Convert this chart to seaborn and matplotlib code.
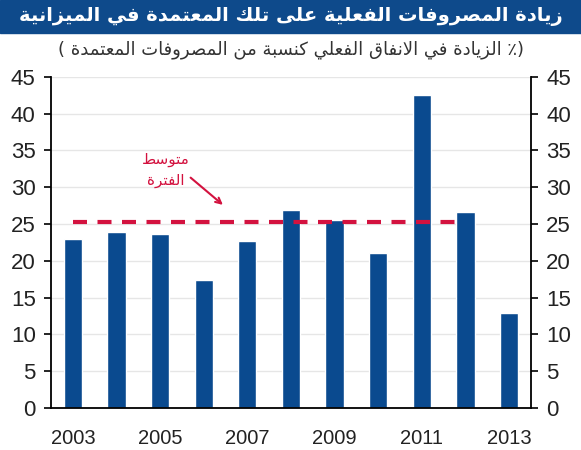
import numpy as np
import pandas as pd
import matplotlib
matplotlib.use('Agg')
import matplotlib.pyplot as plt
from matplotlib.patches import Rectangle
import seaborn as sns

# данные
years = [str(y) for y in range(2003, 2014)]
values = [23.0, 23.9, 23.7, 17.4, 22.7, 26.9, 25.5, 21.1, 42.5, 26.6, 12.9]
avg_years = 10  # среднее считается за 2003-2012

title = 'زيادة المصروفات الفعلية على تلك المعتمدة في الميزانية'
subtitle = '(٪ الزيادة في الانفاق الفعلي كنسبة من المصروفات المعتمدة )'
note_lines = ['متوسط', 'الفترة']

# простая арабская лигатура (matplotlib сам не соединяет буквы)
FORMS = {
    'ا': (0xFE8D, 2), 'ب': (0xFE8F, 4), 'ة': (0xFE93, 2), 'ت': (0xFE95, 4),
    'د': (0xFEA9, 2), 'ر': (0xFEAD, 2), 'ز': (0xFEAF, 2), 'س': (0xFEB1, 4),
    'ص': (0xFEB9, 4), 'ط': (0xFEC1, 4), 'ع': (0xFEC9, 4), 'ف': (0xFED1, 4),
    'ق': (0xFED5, 4), 'ك': (0xFED9, 4), 'ل': (0xFEDD, 4), 'م': (0xFEE1, 4),
    'ن': (0xFEE5, 4), 'و': (0xFEED, 2), 'ى': (0xFEEF, 2), 'ي': (0xFEF1, 4),
}


def shape(text):
    out = []
    i = 0
    while i < len(text):
        c = text[i]
        if c not in FORMS:
            out.append(c)
            i += 1
            continue
        prev = text[i - 1] if i > 0 else ''
        joins_prev = prev in FORMS and FORMS[prev][1] == 4
        if c == 'ل' and i + 1 < len(text) and text[i + 1] == 'ا':
            out.append(chr(0xFEFC if joins_prev else 0xFEFB))
            i += 2
            continue
        nxt = text[i + 1] if i + 1 < len(text) else ''
        joins_next = FORMS[c][1] == 4 and nxt in FORMS
        base = FORMS[c][0]
        if joins_prev and joins_next:
            code = base + 3
        elif joins_prev:
            code = base + 1
        elif joins_next:
            code = base + 2
        else:
            code = base
        out.append(chr(code))
        i += 1
    vis = ''.join(out)[::-1]
    return vis.translate(str.maketrans('()', ')('))


sns.set_style('white')
plt.rcParams['font.family'] = ['Liberation Sans', 'DejaVu Sans']

bar_color = '#0A4A8F'
red = '#D3123F'

fig = plt.figure(figsize=(5.81, 4.5), dpi=100)
ax = fig.add_axes([0.0878, 0.0933, 0.826, 0.736])

df = pd.DataFrame({'year': years, 'value': values})
sns.barplot(data=df, x='year', y='value', color=bar_color, width=0.42,
            saturation=1, ax=ax, zorder=2)

avg = np.mean(values[:avg_years])
ax.hlines(avg, 0, avg_years - 1, colors=red, linestyles=(0, (3.36, 2.52)),
          linewidth=3, zorder=3)

ax.set_ylim(0, 45)
ax.set_xlim(-0.5, len(years) - 0.5)
ax.set_yticks(range(0, 46, 5))
ax.yaxis.grid(True, color='#E6E6E6', linewidth=1, zorder=0)
ax.set_axisbelow(True)

ax.set_xticks(np.arange(-0.5, len(years), 1))
ax.set_xticklabels([])
ax.set_xticks(range(0, len(years), 2), minor=True)
ax.set_xticklabels(years[::2], minor=True)
ax.tick_params(axis='x', which='major', length=5, width=1.2, direction='out', color='black')
ax.tick_params(axis='x', which='minor', length=0, labelsize=14.5, pad=15, labelcolor='#222222')
ax.tick_params(axis='y', length=5, width=1.2, direction='out', color='black',
               labelsize=16, labelcolor='#222222', left=True, right=True,
               labelleft=True, labelright=True, pad=6)
ax.set_xlabel('')
ax.set_ylabel('')

for s in ['left', 'right', 'bottom']:
    ax.spines[s].set_visible(True)
    ax.spines[s].set_color('black')
    ax.spines[s].set_linewidth(1.3)
ax.spines['top'].set_visible(False)

# подпись "среднее за период" и стрелка
ax.text(2.13, 32.3, '\n'.join(shape(t) for t in note_lines), ha='center', va='center',
        color=red, fontsize=11, family=['DejaVu Sans'], linespacing=1.5)
ax.annotate('', xy=(3.44, 27.6), xytext=(2.70, 31.3),
            arrowprops=dict(arrowstyle='->', color=red, lw=1.5, shrinkA=0, shrinkB=0))

# заголовок на синей плашке
fig.patches.append(Rectangle((0, 1 - 33 / 450), 1, 33 / 450, transform=fig.transFigure,
                             color='#0E4A8B', zorder=0))
fig.text(0.5, 1 - 17 / 450, shape(title), ha='center', va='center', color='white',
         fontsize=14, fontweight='bold', family=['DejaVu Sans'])
fig.text(0.5, 1 - 50 / 450, shape(subtitle), ha='center', va='center', color='#333333',
         fontsize=13, family=['DejaVu Sans'])

plt.savefig('out.png', dpi=100)
